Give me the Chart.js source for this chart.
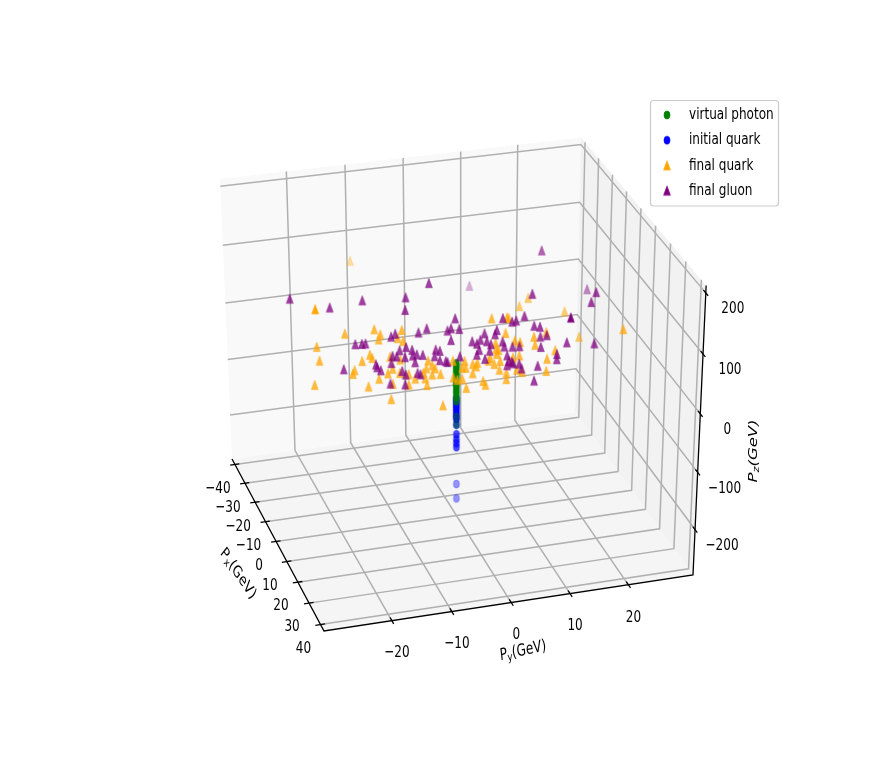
<!DOCTYPE html>
<html>
<head>
<meta charset="utf-8">
<style>
html,body{margin:0;padding:0;background:#fff}
canvas{display:block;filter:blur(0.45px)}
</style>
<script src="https://cdn.jsdelivr.net/npm/chart.js@4"></script>
</head>
<body>
<canvas id="c" width="872" height="762"></canvas>
<script>
// ---- tick labels ----
const pxTicks = [-40,-30,-20,-10,0,10,20,30,40];
const pyTicks = [-20,-10,0,10,20];
const pzTicks = [-200,-100,0,100,200];
// ---- legend names ----
const seriesNames = ['virtual photon','initial quark','final quark','final gluon'];
// ---- data: the picture shows one view only, so depth (Px) of the jets cannot be read; taken as 0 ----
const assumedPx = 0;
const photonPz = [-11,-16,-21,-26,-31,-37,-42,-47,-52,-58,-63,-70,-77,-104,-118];
const photonAlpha = [.9,.9,.9,.9,.9,.9,.9,.9,.9,.9,.9,.8,.7,.4,.4];
const initialQuarkPz = [-72,-77,-82,-87,-92,-98,-103,-108,-118,-135,-144,-151,-158,-224,-250];
const initialQuarkAlpha = [1,1,1,1,1,1,1,1,.8,.7,.7,.7,.7,.4,.4];
const quarkPy = [-17.6,-23.5,10.7,12.2,18.5,6,8.6,8.9,-18.7,-13.8,-12.8,-13.1,-9.2,-9.9,-9,-23.4,-23,-23.9,-15.9,-14.6,-14.2,-17.2,-17.5,-14.9,-13.1,-11.6,-10.8,-11.1,-2.3,-11.2,-10.8,-9.5,-9.6,-8.1,-8.1,-7,-5.6,-5.3,-5,-4.8,-5.1,-4.1,-3.6,-4.1,-2.7,-.6,-.5,.2,1,1.7,1,1.6,1.4,2.8,3.6,3.4,2.8,4.6,5,5.8,6.5,7.5,7.4,8.6,8.6,8.4,6.7,6.8,7.2,6.9,10,10.9,9.7,10.8,10.4,11.3,13.3,13.5,15.4,15.6,15.5,17,21.1,5.5,28.8];
const quarkPz = [184,111,73,85,54,58,56,55,64,65,55,47,58,45,39,48,24,-16,14,23,17,0,-6,-31,-20,-13,-32,-58,-81,15,-6,8,-15,-19,-37,-28,-20,-30,-42,0,-13,-9,-15,-25,-26,-6,-35,-40,-39,-56,-20,-21,-9,-16,-15,-21,-32,-48,-55,-10,-21,-17,-32,-39,-50,30,15,5,2,-4,15,11,-14,-12,-36,-41,17,3,22,-24,-45,-11,7,-14,10];
const gluonPy = [14.4,-4.6,-27.6,-21.1,-15.7,-8.5,-8.6,12.9,22.3,23.9,23.1,2.2,-.2,11.6,10.2,9.5,7.9,19.6,13.3,14.3,14.4,15.5,19,23.8,14.5,17.3,17.3,14,13.4,-5,-6.4,-.9,-1.5,.5,-.9,-17,-15.9,-15.3,-11,-10.3,-8.5,-9.6,-7.5,-3.5,-2.8,-10.8,-10.1,-8.7,-7.4,-6.7,-5.7,-3.7,-7,-2.8,-1.8,-1.5,.6,-11,-13.6,-13.4,-12.8,-19,-9.2,-8.6,-6.6,-6.1,-11.2,-8.7,2.7,3.5,4.1,4.8,6.6,6.9,5.2,5.9,3.9,5.7,3.5,4.9,8.2,9.6,10.8,7.9,8.7,9,8.7,9.7,10.8,11.2,9.5];
const gluonPz = [162,131,134,111,116,112,91,91,87,80,64,118,66,55,49,48,56,42,36,33,16,17,0,-8,-2,-18,-27,-34,-59,55,50,50,47,47,30,44,43,43,49,53,28,24,22,17,14,16,14,11,12,13,11,6,0,-2,-5,-7,0,4,5,0,-6,4,-12,-19,-19,-22,-31,-36,23,18,24,34,30,37,20,14,7,3,-1,-10,7,5,4,16,-9,-19,-26,-24,-26,-35,-21];
// depth shading seen in the picture: index -> opacity, others use the default
const quarkShade = {0:.35,1:1,2:.55,3:.55,4:.55,82:.55};
const gluonShade = {0:.6,8:.45,11:.3,17:1};
const defaultShade = .75;

// ---- 3D box calibration ----
const box = {xMin:-43,xMax:43,yMin:-31.2,yMax:31.2,zMin:-281,zMax:212};
const A=[232,459],B=[324,631],C=[693,575],D=[575,412],E=[220,179],G=[581,137];
const det=(B[0]-C[0])*(D[1]-C[1])-(D[0]-C[0])*(B[1]-C[1]);
const s=[A[0]-B[0]+C[0]-D[0],A[1]-B[1]+C[1]-D[1]];
const g1=(s[0]*(D[1]-C[1])-(D[0]-C[0])*s[1])/det;
const g2=((B[0]-C[0])*s[1]-s[0]*(B[1]-C[1]))/det;
const g3=((D[0]-G[0])*(1+g2)+E[0]-A[0])/(G[0]-E[0]);
function project(px,py,pz){
  const u=(px-box.xMin)/(box.xMax-box.xMin),v=(py-box.yMin)/(box.yMax-box.yMin),t=(pz-box.zMin)/(box.zMax-box.zMin);
  const w=1+g1*u+g2*v+g3*t;
  const f=i=>(A[i]+(B[i]*(1+g1)-A[i])*u+(D[i]*(1+g2)-A[i])*v+(E[i]*(1+g3)-A[i])*t)/w;
  return {x:f(0),y:f(1)};
}
function sprite(shape,color,alpha){
  const c=document.createElement('canvas');c.width=12;c.height=12;
  const k=c.getContext('2d');k.globalAlpha=alpha;k.fillStyle=color;k.strokeStyle=color;k.lineWidth=.7;
  k.beginPath();
  if(shape==='tri'){k.moveTo(6,1.4);k.lineTo(2.6,10.6);k.lineTo(9.4,10.6);k.closePath();}
  else k.ellipse(6,6,3,4,0,0,Math.PI*2);
  k.fill();k.stroke();return c;
}
const cols={green:'#008000',blue:'#0000ff',orange:'#ffa500',purple:'#800080'};
const pts=(ys,zs)=>zs.map((z,i)=>project(assumedPx,ys?ys[i]:0,z));
const line=(color,width,order)=>(data)=>({type:'scatter',showLine:true,data,borderColor:color,borderWidth:width,pointRadius:0,order,fill:false,tension:0,clip:false});
const grid=line('#b0b0b0',1.5,50), axis=line('#000',1.3,40);
const b=box, lines=[];
pxTicks.forEach(t=>lines.push(grid([project(t,b.yMin,b.zMin),project(t,b.yMax,b.zMin),project(t,b.yMax,b.zMax)])));
pyTicks.forEach(t=>lines.push(grid([project(b.xMax,t,b.zMin),project(b.xMin,t,b.zMin),project(b.xMin,t,b.zMax)])));
pzTicks.forEach(t=>lines.push(grid([project(b.xMin,b.yMin,t),project(b.xMin,b.yMax,t),project(b.xMax,b.yMax,t)])));
lines.push(axis([project(b.xMin,b.yMin,b.zMin),project(b.xMax,b.yMin,b.zMin),project(b.xMax,b.yMax,b.zMin),project(b.xMax,b.yMax,b.zMax)]));
pxTicks.forEach(t=>lines.push(axis([project(t,b.yMin-.85,b.zMin),project(t,b.yMin+.75,b.zMin)])));
pyTicks.forEach(t=>lines.push(axis([project(b.xMax-1.5,t,b.zMin),project(b.xMax+1.5,t,b.zMin)])));
pzTicks.forEach(t=>lines.push(axis([project(b.xMax-1.5,b.yMax,t),project(b.xMax+1.5,b.yMax,t)])));
const marks=(label,data,styles,order)=>({type:'scatter',label,data,pointStyle:styles,pointRadius:4,pointHoverRadius:4,borderWidth:0,backgroundColor:'transparent',order,clip:false});
const datasets=[...lines,
  marks(seriesNames[1],pts(null,initialQuarkPz),initialQuarkPz.map((_,i)=>sprite('dot',cols.blue,initialQuarkAlpha[i])),30),
  marks(seriesNames[0],pts(null,photonPz),photonPz.map((_,i)=>sprite('dot',cols.green,photonAlpha[i])),29),
  marks(seriesNames[2],pts(quarkPy,quarkPz),quarkPz.map((_,i)=>sprite('tri',cols.orange,quarkShade[i]??defaultShade)),28),
  marks(seriesNames[3],pts(gluonPy,gluonPz),gluonPz.map((_,i)=>sprite('tri',cols.purple,gluonShade[i]??defaultShade)),27)
];
const FONT='"DejaVu Sans"',SQUEEZE=.73,SIZE=16.5;
function runs(k,x,y,angle,parts,align){
  k.save();k.translate(x,y);k.scale(SQUEEZE,1);k.rotate(angle);
  k.fillStyle='#000';k.textBaseline='middle';k.textAlign='left';
  let total=0;
  const fontOf=p=>(p.italic?'italic ':'')+(p.sub?SIZE*.7:SIZE)+'px '+FONT;
  parts.forEach(p=>{k.font=fontOf(p);total+=k.measureText(p.t).width;});
  let cx=align==='left'?0:-total/2;
  parts.forEach(p=>{k.font=fontOf(p);k.fillText(p.t,cx,p.sub?4:0);cx+=k.measureText(p.t).width;});
  k.restore();
}
const fmt=v=>String(v).replace('-','\u2212');
const frame={
  id:'frame',
  beforeDatasetsDraw(ch){
    const k=ch.ctx,X=ch.scales.x,Y=ch.scales.y;
    const poly=(cs,col)=>{k.beginPath();cs.forEach((p,i)=>{const q=project(...p),a=X.getPixelForValue(q.x),c=Y.getPixelForValue(q.y);i?k.lineTo(a,c):k.moveTo(a,c);});k.closePath();k.fillStyle=col;k.fill();};
    poly([[b.xMin,b.yMin,b.zMin],[b.xMin,b.yMax,b.zMin],[b.xMin,b.yMax,b.zMax],[b.xMin,b.yMin,b.zMax]],'#f9f9f9');
    poly([[b.xMin,b.yMax,b.zMin],[b.xMax,b.yMax,b.zMin],[b.xMax,b.yMax,b.zMax],[b.xMin,b.yMax,b.zMax]],'#f2f2f2');
    poly([[b.xMin,b.yMin,b.zMin],[b.xMax,b.yMin,b.zMin],[b.xMax,b.yMax,b.zMin],[b.xMin,b.yMax,b.zMin]],'#f5f5f5');
  },
  afterDatasetsDraw(ch){
    const k=ch.ctx,X=ch.scales.x,Y=ch.scales.y;
    const at=(p,dx,dy)=>[X.getPixelForValue(p.x)+dx,Y.getPixelForValue(p.y)+dy];
    pxTicks.forEach(t=>{const [x,y]=at(project(t,b.yMin,b.zMin),-17,24);runs(k,x,y,0,[{t:fmt(t)}]);});
    pyTicks.forEach(t=>{const [x,y]=at(project(b.xMax,t,b.zMin),5,32.5);runs(k,x,y,0,[{t:fmt(t)}]);});
    pzTicks.forEach(t=>{const [x,y]=at(project(b.xMax,b.yMax,t),27,16);runs(k,x,y,0,[{t:fmt(t)}]);});
    runs(k,238,574,47*Math.PI/180,[{t:'P'},{t:'x',sub:1},{t:'(GeV)'}]);
    runs(k,523,651,-9*Math.PI/180,[{t:'P'},{t:'y',sub:1},{t:'(GeV)'}]);
    runs(k,754,451,-Math.PI/2,[{t:'P',italic:1},{t:'z',italic:1,sub:1},{t:'(GeV)',italic:1}]);
    // legend
    k.save();
    k.beginPath();k.roundRect(650.5,100.5,128,105.5,3);k.fillStyle='rgba(255,255,255,.8)';k.fill();k.strokeStyle='#ccc';k.lineWidth=1.2;k.stroke();
    const keys=[sprite('dot',cols.green,1),sprite('dot',cols.blue,1),sprite('tri',cols.orange,1),sprite('tri',cols.purple,1)];
    seriesNames.forEach((n,i)=>{const y=115+i*25.2;k.drawImage(keys[i],661,y-6);runs(k,689,y,0,[{t:n}],'left');});
    k.restore();
  }
};
new Chart(document.getElementById('c'),{
  type:'scatter',
  data:{datasets},
  options:{
    responsive:false,animation:false,devicePixelRatio:1,events:[],
    layout:{padding:0,autoPadding:false},
    plugins:{legend:{display:false},tooltip:{enabled:false}},
    scales:{
      x:{type:'linear',min:0,max:872,display:false},
      y:{type:'linear',min:0,max:762,reverse:true,display:false}
    }
  },
  plugins:[frame]
});
</script>
</body>
</html>
